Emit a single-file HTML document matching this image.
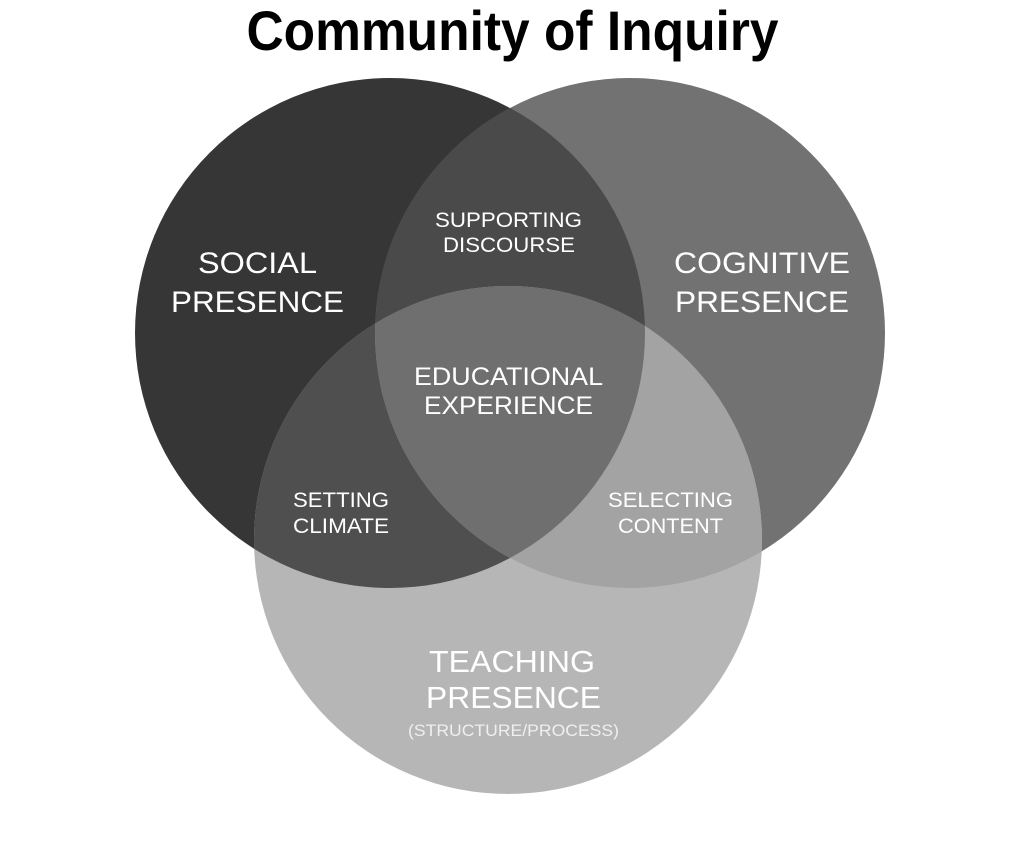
<!DOCTYPE html>
<html>
<head>
<meta charset="utf-8">
<style>
  html, body { margin: 0; padding: 0; background: #ffffff; }
  svg { display: block; }
  text { font-family: "Liberation Sans", Arial, sans-serif; }
</style>
</head>
<body>
<svg width="1024" height="846" viewBox="0 0 1024 846" xmlns="http://www.w3.org/2000/svg">
  <defs>
    <clipPath id="clipS"><circle cx="390" cy="333" r="255"/></clipPath>
    <clipPath id="clipC"><circle cx="630" cy="333" r="255"/></clipPath>
  </defs>
  <rect x="0" y="0" width="1024" height="846" fill="#ffffff"/>

  <!-- Title -->
  <text x="512.5" y="50" font-size="56" font-weight="bold" text-anchor="middle" fill="#000" textLength="532" lengthAdjust="spacingAndGlyphs">Community of Inquiry</text>

  <!-- Base circles -->
  <circle cx="390" cy="333" r="255" fill="#363636"/>
  <circle cx="630" cy="333" r="255" fill="#727272"/>
  <circle cx="508" cy="540" r="254" fill="#b6b6b6"/>

  <!-- S ∩ C -->
  <g clip-path="url(#clipS)">
    <circle cx="630" cy="333" r="255" fill="#4a4a4a"/>
  </g>
  <!-- S ∩ T -->
  <g clip-path="url(#clipS)">
    <circle cx="508" cy="540" r="254" fill="#4f4f4f"/>
  </g>
  <!-- C ∩ T -->
  <g clip-path="url(#clipC)">
    <circle cx="508" cy="540" r="254" fill="#a3a3a3"/>
  </g>
  <!-- S ∩ C ∩ T -->
  <g clip-path="url(#clipS)">
    <g clip-path="url(#clipC)">
      <circle cx="508" cy="540" r="254" fill="#6f6f6f"/>
    </g>
  </g>

  <!-- Labels -->
  <g fill="#ffffff" text-anchor="middle">
    <text x="257.5" y="273" font-size="30" textLength="119" lengthAdjust="spacingAndGlyphs">SOCIAL</text>
    <text x="257.5" y="312" font-size="30" textLength="173" lengthAdjust="spacingAndGlyphs">PRESENCE</text>

    <text x="762" y="273" font-size="30" textLength="176" lengthAdjust="spacingAndGlyphs">COGNITIVE</text>
    <text x="762" y="312" font-size="30" textLength="174" lengthAdjust="spacingAndGlyphs">PRESENCE</text>

    <text x="508.5" y="227" font-size="21" textLength="147" lengthAdjust="spacingAndGlyphs">SUPPORTING</text>
    <text x="509" y="252" font-size="21" textLength="132" lengthAdjust="spacingAndGlyphs">DISCOURSE</text>

    <text x="508.5" y="385" font-size="25" textLength="189" lengthAdjust="spacingAndGlyphs">EDUCATIONAL</text>
    <text x="508.5" y="414" font-size="25" textLength="169" lengthAdjust="spacingAndGlyphs">EXPERIENCE</text>

    <text x="341" y="507" font-size="21" textLength="96" lengthAdjust="spacingAndGlyphs">SETTING</text>
    <text x="341" y="533" font-size="21" textLength="96" lengthAdjust="spacingAndGlyphs">CLIMATE</text>

    <text x="670.5" y="507" font-size="21" textLength="125" lengthAdjust="spacingAndGlyphs">SELECTING</text>
    <text x="670.5" y="533" font-size="21" textLength="105" lengthAdjust="spacingAndGlyphs">CONTENT</text>

    <text x="512" y="672" font-size="31" textLength="166" lengthAdjust="spacingAndGlyphs">TEACHING</text>
    <text x="513.5" y="708" font-size="31" textLength="175" lengthAdjust="spacingAndGlyphs">PRESENCE</text>
    <text x="513.5" y="736" font-size="16.5" fill="#efefef" textLength="211" lengthAdjust="spacingAndGlyphs">(STRUCTURE/PROCESS)</text>
  </g>
</svg>
</body>
</html>
